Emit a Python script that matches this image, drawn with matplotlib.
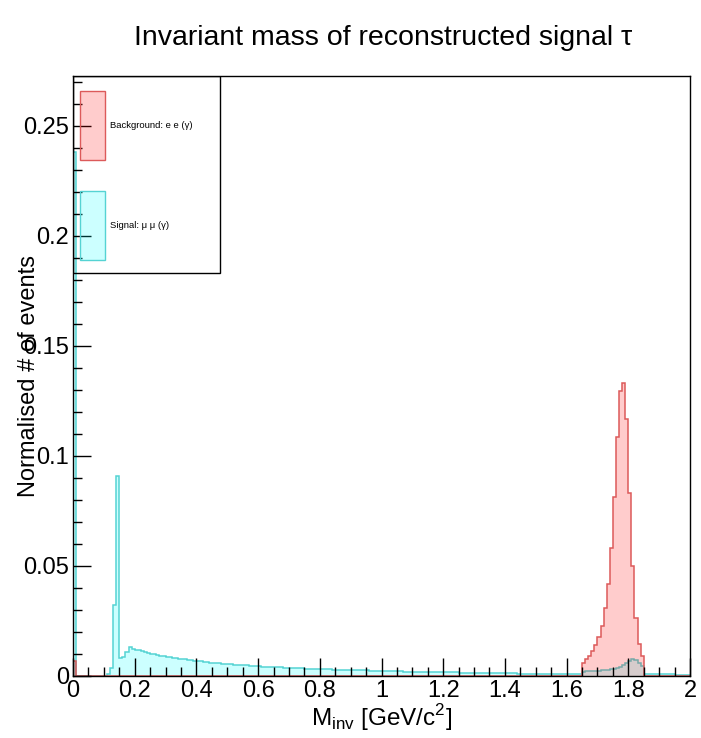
import numpy as np
import matplotlib
matplotlib.use("Agg")
import matplotlib.pyplot as plt
from matplotlib.patches import Rectangle
from matplotlib.ticker import MultipleLocator

plt.rcParams['font.family'] = ['Liberation Sans', 'DejaVu Sans']

# ===== data: 200 bins of 0.01 GeV/c^2 =====
bin_edges = np.round(np.arange(0, 2.0001, 0.01), 2)

signal = [
    0.2380, 0, 0, 0, 0, 0, 0, 0, 0, 0,
    0, 0.0008, 0.0038, 0.0323, 0.0909, 0.0082, 0.0086, 0.0108, 0.0130, 0.0124,
    0.0120, 0.0117, 0.0113, 0.0109, 0.0106, 0.0102, 0.0099, 0.0096, 0.0093, 0.0090,
    0.0088, 0.0085, 0.0083, 0.0081, 0.0079, 0.0077, 0.0075, 0.0073, 0.0071, 0.0069,
    0.0067, 0.0066, 0.0064, 0.0063, 0.0061, 0.0060, 0.0059, 0.0057, 0.0056, 0.0055,
    0.0054, 0.0053, 0.0052, 0.0051, 0.0050, 0.0049, 0.0048, 0.0047, 0.0046, 0.0045,
    0.0044, 0.0043, 0.0043, 0.0042, 0.0041, 0.0040, 0.0040, 0.0039, 0.0038, 0.0038,
    0.0037, 0.0036, 0.0036, 0.0035, 0.0035, 0.0034, 0.0033, 0.0033, 0.0032, 0.0032,
    0.0031, 0.0031, 0.0030, 0.0030, 0.0029, 0.0029, 0.0028, 0.0028, 0.0027, 0.0027,
    0.0027, 0.0026, 0.0026, 0.0025, 0.0025, 0.0025, 0.0024, 0.0024, 0.0023, 0.0023,
    0.0023, 0.0022, 0.0022, 0.0022, 0.0021, 0.0021, 0.0021, 0.0020, 0.0020, 0.0020,
    0.0019, 0.0019, 0.0019, 0.0019, 0.0018, 0.0018, 0.0018, 0.0017, 0.0017, 0.0017,
    0.0017, 0.0016, 0.0016, 0.0016, 0.0016, 0.0015, 0.0015, 0.0015, 0.0015, 0.0014,
    0.0014, 0.0014, 0.0014, 0.0014, 0.0013, 0.0013, 0.0013, 0.0013, 0.0013, 0.0012,
    0.0012, 0.0012, 0.0012, 0.0012, 0.0011, 0.0011, 0.0011, 0.0011, 0.0011, 0.0011,
    0.0010, 0.0010, 0.0010, 0.0010, 0.0010, 0.0010, 0.0009, 0.0009, 0.0009, 0.0009,
    0.0009, 0.0009, 0.0009, 0.0008, 0.0008, 0.0020, 0.0021, 0.0022, 0.0023, 0.0024,
    0.0024, 0.0025, 0.0026, 0.0028, 0.0030, 0.0033, 0.0037, 0.0043, 0.0051, 0.0060,
    0.0069, 0.0076, 0.0073, 0.0061, 0.0046, 0.0008, 0.0008, 0.0008, 0.0007, 0.0007,
    0.0007, 0.0007, 0.0007, 0.0007, 0.0007, 0.0006, 0.0006, 0.0006, 0.0006, 0.0006,
]

# background: one low bin at 0 and the tau peak between 1.65 and 1.85
bkg_first_bin = 0.0070
bkg_peak_start = 1.65
bkg_peak = [
    0.0060, 0.0076, 0.0090, 0.0114, 0.0140, 0.0177, 0.0227, 0.0310, 0.0417, 0.0583,
    0.0814, 0.1088, 0.1295, 0.1330, 0.1167, 0.0833, 0.0500, 0.0265, 0.0144, 0.0090,
]

background = np.zeros(len(bin_edges) - 1)
background[0] = bkg_first_bin
i0 = int(round(bkg_peak_start / 0.01))
background[i0:i0 + len(bkg_peak)] = bkg_peak

legend_labels = ['Background: e e (\u03b3)', 'Signal: \u03bc \u03bc (\u03b3)']

sig_line = '#55d3d3'
bkg_line = '#dc5a5a'

# ===== figure =====
fig = plt.figure(figsize=(7.01, 7.38), dpi=100)
ax = fig.add_axes([73 / 701, 62 / 738, 617 / 701, 600 / 738])

ax.stairs(signal, bin_edges, fill=True, color=(0, 1, 1, 0.2), lw=0)
ax.stairs(signal, bin_edges, color=sig_line, lw=1.1)
ax.stairs(background, bin_edges, fill=True, color=(1, 0, 0, 0.2), lw=0)
ax.stairs(background, bin_edges, color=bkg_line, lw=1.1)

ax.set_xlim(0, 2)
ax.set_ylim(0, 0.2727)

ax.xaxis.set_major_locator(MultipleLocator(0.2))
ax.xaxis.set_minor_locator(MultipleLocator(0.05))
ax.yaxis.set_major_locator(MultipleLocator(0.05))
ax.yaxis.set_minor_locator(MultipleLocator(0.01))
ax.xaxis.set_major_formatter(plt.FuncFormatter(lambda v, p: f'{v:g}'))
ax.yaxis.set_major_formatter(plt.FuncFormatter(lambda v, p: f'{v:g}'))
ax.tick_params(which='both', direction='in', top=False, right=False,
               labelsize=17, width=1, color='black')
ax.tick_params(which='major', length=13, pad=3)
ax.tick_params(which='minor', length=6.5)
for s in ax.spines.values():
    s.set_linewidth(1)

ax.set_xlabel(r'M$_{\mathregular{inv}}$ [GeV/c$^{\mathregular{2}}$]', fontsize=17.5)
ax.xaxis.set_label_coords(0.5, -0.043)
ax.set_ylabel('Normalised # of events', fontsize=17)
ax.yaxis.set_label_coords(-0.053, 0.5)

fig.text(0.547, 0.948, 'Invariant mass of reconstructed signal \u03c4',
         ha='center', va='center', fontsize=20.5)

# ===== legend box (ROOT style, transparent) =====
ax.add_patch(Rectangle((0, 0.672), 0.238, 0.328, transform=ax.transAxes,
                       facecolor='none', edgecolor='black', lw=1, zorder=5))
ax.add_patch(Rectangle((0.0113, 0.86), 0.0406, 0.115, transform=ax.transAxes,
                       facecolor=(1, 0, 0, 0.2), edgecolor=bkg_line, lw=1, zorder=6))
ax.add_patch(Rectangle((0.0113, 0.693), 0.0406, 0.115, transform=ax.transAxes,
                       facecolor=(0, 1, 1, 0.2), edgecolor=sig_line, lw=1, zorder=6))
ax.text(0.06, 0.918, legend_labels[0], transform=ax.transAxes, fontsize=6.8,
        va='center', zorder=7)
ax.text(0.06, 0.75, legend_labels[1], transform=ax.transAxes, fontsize=6.8,
        va='center', zorder=7)

fig.savefig('out.png', dpi=100)
